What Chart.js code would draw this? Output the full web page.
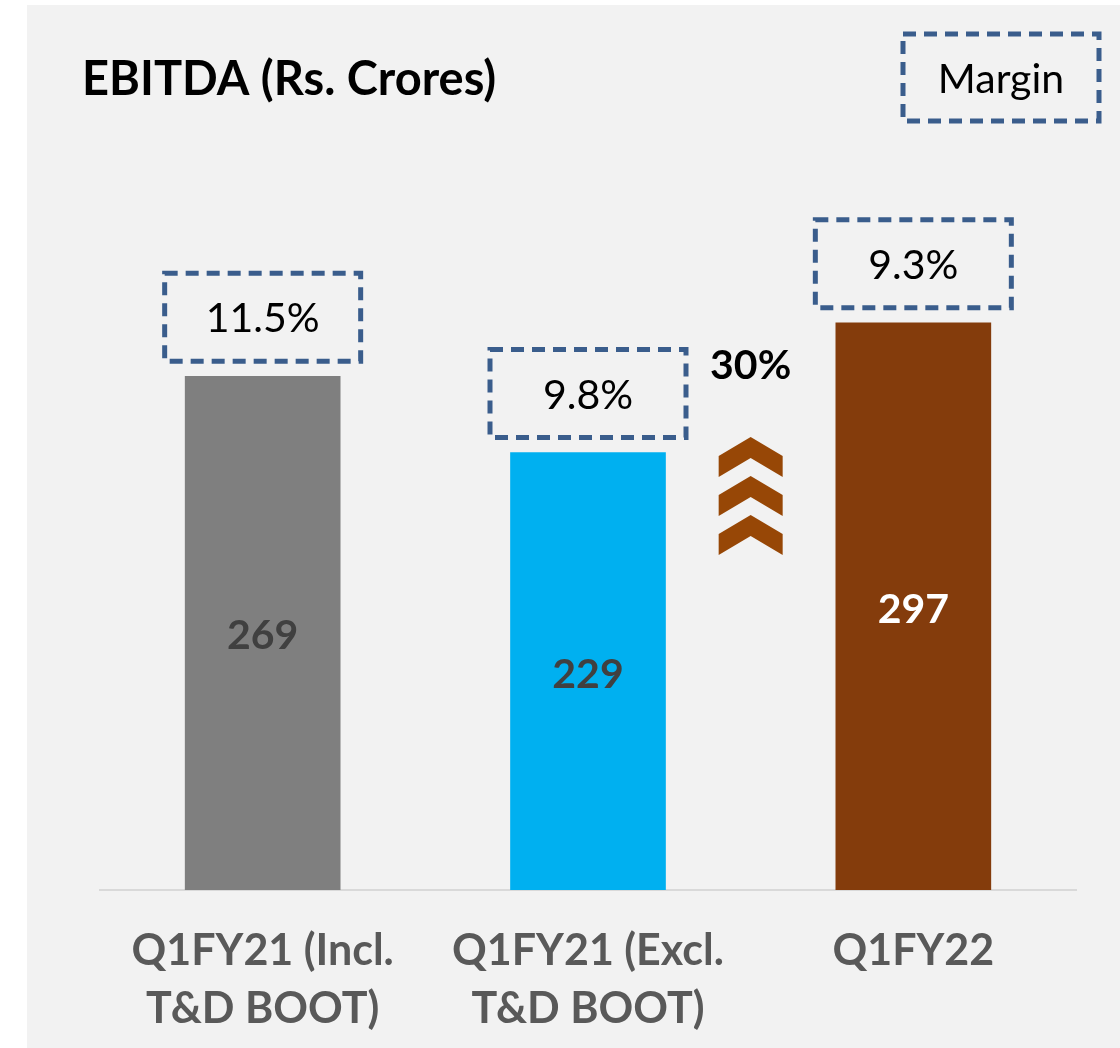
<!DOCTYPE html>
<html>
<head>
<meta charset="utf-8">
<script src="https://cdn.jsdelivr.net/npm/chart.js@4.4.0/dist/chart.umd.min.js"></script>
<style>
  html, body { margin: 0; padding: 0; background: #ffffff; }
  #wrap { width: 1120px; height: 1048px; position: relative; }
</style>
</head>
<body>
<div id="wrap"><canvas id="ebitda-chart"></canvas></div>
<script>
// data
const categories = [['Q1FY21 (Incl.', 'T&D BOOT)'], ['Q1FY21 (Excl.', 'T&D BOOT)'], ['Q1FY22']];
const ebitda = [269, 229, 297];
const margins = ['11.5%', '9.8%', '9.3%'];
const growth = '30%';
const barColors = ['#7f7f7f', '#00b0f0', '#843c0c'];
const valueColors = ['#404040', '#404040', '#ffffff'];

const FONT = 'Lato, "Open Sans", sans-serif';
const BOX_BLUE = '#3a5d8c';

function dashedBox(ctx, cx, top, w, h, text) {
    ctx.save();
    ctx.setLineDash([13, 8]);
    ctx.lineWidth = 5;
    ctx.strokeStyle = BOX_BLUE;
    ctx.strokeRect(cx - w / 2, top, w, h);
    ctx.setLineDash([]);
    ctx.fillStyle = '#000000';
    ctx.font = '41px ' + FONT;
    ctx.textAlign = 'center';
    ctx.textBaseline = 'middle';
    ctx.fillText(text, cx, top + h / 2 + 2);
    ctx.restore();
}

function chevron(ctx, cx, apexY) {
    // one upward chevron, 65 wide, 40 tall, ~20 thick
    ctx.beginPath();
    ctx.moveTo(cx, apexY);
    ctx.lineTo(cx + 32, apexY + 19);
    ctx.lineTo(cx + 32, apexY + 40);
    ctx.lineTo(cx, apexY + 21);
    ctx.lineTo(cx - 32, apexY + 40);
    ctx.lineTo(cx - 32, apexY + 19);
    ctx.closePath();
    ctx.fill();
}

const slidePlugin = {
    id: 'slide',
    beforeDraw(chart) {
        const ctx = chart.ctx;
        ctx.save();
        ctx.fillStyle = '#ffffff';
        ctx.fillRect(0, 0, chart.width, chart.height);
        ctx.fillStyle = '#f2f2f2';
        ctx.fillRect(27, 5, chart.width - 27, chart.height - 5);

        ctx.fillStyle = '#000000';
        ctx.font = 'bold 47px ' + FONT;
        ctx.textAlign = 'left';
        ctx.textBaseline = 'alphabetic';
        ctx.fillText('EBITDA (Rs. Crores)', 82, 95);
        ctx.restore();

        dashedBox(ctx, 1001, 34, 196, 87, 'Margin');
    },
    afterDatasetsDraw(chart) {
        const ctx = chart.ctx;
        const bars = chart.getDatasetMeta(0).data;
        ctx.save();
        bars.forEach((bar, i) => {
            // value inside the bar
            ctx.fillStyle = valueColors[i];
            ctx.font = 'bold 41px ' + FONT;
            ctx.textAlign = 'center';
            ctx.textBaseline = 'middle';
            ctx.fillText(String(ebitda[i]), bar.x, (bar.y + bar.base) / 2 + 3);
            // margin box above the bar
            dashedBox(ctx, bar.x, bar.y - 15 - 88, 196, 88, margins[i]);
        });

        // growth arrow between the last two bars
        const cx = (bars[1].x + bars[2].x) / 2;
        ctx.fillStyle = '#000000';
        ctx.font = 'bold 41px ' + FONT;
        ctx.textAlign = 'center';
        ctx.textBaseline = 'middle';
        ctx.fillText(growth, cx, 366);
        ctx.fillStyle = '#974706';
        [437, 476, 515].forEach(y => chevron(ctx, cx, y));
        ctx.restore();
    }
};

const ctx = document.getElementById('ebitda-chart').getContext('2d');
const ebitdaChart = new Chart(ctx, {
    type: 'bar',
    data: {
        labels: categories,
        datasets: [{
            data: ebitda,
            backgroundColor: barColors,
            borderWidth: 0,
            barThickness: 155
        }]
    },
    options: {
        responsive: true,
        maintainAspectRatio: false,
        animation: false,
        layout: {
            padding: { left: 100, right: 44, top: 126, bottom: 0 }
        },
        plugins: {
            legend: { display: false },
            tooltip: { enabled: false }
        },
        scales: {
            x: {
                grid: { display: false, drawTicks: false },
                border: { display: true, color: '#d9d9d9', width: 2 },
                ticks: {
                    color: '#595959',
                    padding: 33,
                    maxRotation: 0,
                    autoSkip: false,
                    font: { family: FONT, size: 43, weight: 'bold', lineHeight: 1.33 }
                },
                afterFit(scale) { scale.height = 158; }
            },
            y: {
                display: false,
                beginAtZero: true,
                min: 0,
                max: 400
            }
        }
    },
    plugins: [slidePlugin]
});
</script>
</body>
</html>
